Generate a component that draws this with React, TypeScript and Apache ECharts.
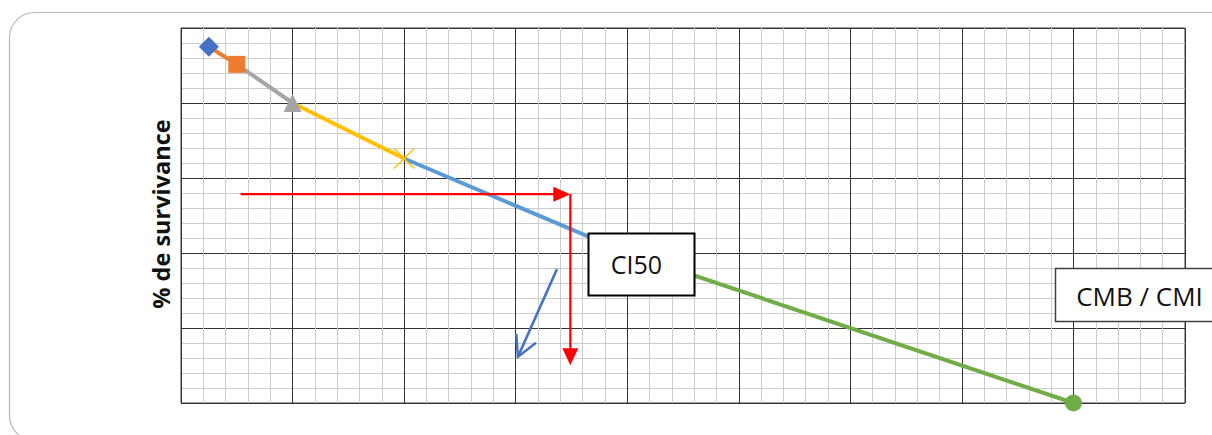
import React, { useEffect, useRef } from "react";
import * as echarts from "echarts";

// Data (concentration index on x, % survival on y)
const concentrations = [0.25, 0.5, 1, 2, 4, 8];
const survival = [95, 90.3, 80, 65.2, 40, 0];
const seriesColors = ["#4472C4", "#ED7D31", "#A5A5A5", "#FFC000", "#5B9BD5", "#70AD47"];
const seriesSymbols = ["diamond", "rect", "triangle", "path://M0,0L10,10M0,10L10,0", "none", "circle"];
const seriesSymbolSizes = [20, 17, 18, 20, 0, 17];

// Axis extents
const xMax = 9;
const xInterval = 1;
const yMax = 100;
const yInterval = 20;
const minorSplits = 5;

// Annotation arrows (data coordinates)
const redArrowStart = [0.534, 55.7];
const redArrowCorner = [3.49, 55.7];
const redArrowEnd = [3.49, 10.1];
const blueArrowStart = [3.37, 35.7];
const blueArrowEnd = [3.02, 12.3];

const yLabel = "% de survivance";
const ci50Label = "CI50";
const cmbLabel = "CMB / CMI";

export default function App() {
  const ref = useRef<HTMLDivElement>(null);

  useEffect(() => {
    if (!ref.current) return;
    const chart = echarts.init(ref.current, null, { renderer: "svg" });

    const series: any[] = [];
    series.push({
      type: "line",
      z: 10,
      data: [
        {
          value: [concentrations[0], survival[0]],
          symbol: seriesSymbols[0],
          symbolSize: seriesSymbolSizes[0],
        },
      ],
      itemStyle: { color: seriesColors[0] },
      lineStyle: { width: 4, color: seriesColors[0] },
    });
    for (let i = 1; i < concentrations.length; i++) {
      const isX = seriesSymbols[i].startsWith("path://");
      series.push({
        type: "line",
        z: 10 - i,
        showSymbol: true,
        data: [
          { value: [concentrations[i - 1], survival[i - 1]], symbol: "none" },
          {
            value: [concentrations[i], survival[i]],
            symbol: seriesSymbols[i],
            symbolSize: seriesSymbolSizes[i],
            itemStyle: isX
              ? { color: seriesColors[i], borderColor: seriesColors[i], borderWidth: 1.5 }
              : { color: seriesColors[i] },
          },
        ],
        itemStyle: { color: seriesColors[i] },
        lineStyle: { width: 4, color: seriesColors[i] },
      });
    }

    chart.setOption({
      animation: false,
      backgroundColor: "#ffffff",
      grid: {
        left: 181,
        right: 27,
        top: 28,
        bottom: 32,
        show: true,
        borderColor: "#404040",
        borderWidth: 1,
        backgroundColor: "transparent",
      },
      xAxis: {
        type: "value",
        min: 0,
        max: xMax,
        interval: xInterval,
        axisLabel: { show: false },
        axisTick: { show: false },
        axisLine: { show: false },
        splitLine: { show: true, lineStyle: { color: "#333333", width: 1 } },
        minorTick: { show: false, splitNumber: minorSplits },
        minorSplitLine: { show: true, lineStyle: { color: "#cccccc", width: 1 } },
      },
      yAxis: {
        type: "value",
        min: 0,
        max: yMax,
        interval: yInterval,
        axisLabel: { show: false },
        axisTick: { show: false },
        axisLine: { show: false },
        splitLine: { show: true, lineStyle: { color: "#333333", width: 1 } },
        minorTick: { show: false, splitNumber: minorSplits },
        minorSplitLine: { show: true, lineStyle: { color: "#cccccc", width: 1 } },
      },
      series,
    });

    const px = (p: number[]) => chart.convertToPixel({ gridIndex: 0 } as any, p) as number[];
    const rs = px(redArrowStart);
    const rc = px(redArrowCorner);
    const re = px(redArrowEnd);
    const bs = px(blueArrowStart);
    const be = px(blueArrowEnd);

    const red = "#ff0000";
    const headLen = 17;
    const headHalf = 7.5;

    // blue open arrowhead
    const dx = bs[0] - be[0];
    const dy = bs[1] - be[1];
    const len = Math.sqrt(dx * dx + dy * dy);
    const ux = dx / len;
    const uy = dy / len;
    const ang = (28 * Math.PI) / 180;
    const armLen = 23;
    const rot = (a: number) => [
      be[0] + armLen * (ux * Math.cos(a) - uy * Math.sin(a)),
      be[1] + armLen * (ux * Math.sin(a) + uy * Math.cos(a)),
    ];
    const arm1 = rot(ang);
    const arm2 = rot(-ang);

    chart.setOption({
      graphic: [
        {
          type: "rect",
          z: 200,
          silent: true,
          shape: { x: 9.5, y: 12.5, width: 1230, height: 428, r: 25 },
          style: { fill: "none", stroke: "#b8b8b8", lineWidth: 1.2 },
        },
        {
          type: "text",
          z: 200,
          x: 161,
          y: 214,
          rotation: Math.PI / 2,
          style: {
            text: yLabel,
            fontFamily: "Open Sans",
            fontWeight: "bold",
            fontSize: 23.5,
            fill: "#111111",
            align: "center",
            verticalAlign: "middle",
          },
        },
        // red horizontal arrow
        {
          type: "line",
          z: 150,
          shape: { x1: rs[0], y1: rs[1], x2: rc[0] - headLen + 2, y2: rc[1] },
          style: { stroke: red, lineWidth: 2.2 },
        },
        {
          type: "polygon",
          z: 150,
          shape: {
            points: [
              [rc[0], rc[1]],
              [rc[0] - headLen, rc[1] - headHalf],
              [rc[0] - headLen, rc[1] + headHalf],
            ],
          },
          style: { fill: red },
        },
        // red vertical arrow
        {
          type: "line",
          z: 150,
          shape: { x1: rc[0], y1: rc[1], x2: re[0], y2: re[1] - headLen + 2 },
          style: { stroke: red, lineWidth: 2.2 },
        },
        {
          type: "polygon",
          z: 150,
          shape: {
            points: [
              [re[0], re[1]],
              [re[0] - headHalf - 0.5, re[1] - headLen],
              [re[0] + headHalf + 0.5, re[1] - headLen],
            ],
          },
          style: { fill: red },
        },
        // blue pointer arrow
        {
          type: "line",
          z: 150,
          shape: { x1: bs[0], y1: bs[1], x2: be[0], y2: be[1] },
          style: { stroke: "#4472C4", lineWidth: 2.5 },
        },
        {
          type: "polyline",
          z: 150,
          shape: { points: [arm1, [be[0], be[1]], arm2] },
          style: { stroke: "#4472C4", lineWidth: 2.5, fill: "none" },
        },
        // CI50 box
        {
          type: "rect",
          z: 160,
          shape: { x: 588.5, y: 233.5, width: 106, height: 62 },
          style: { fill: "#ffffff", stroke: "#000000", lineWidth: 2 },
        },
        {
          type: "text",
          z: 161,
          x: 636.5,
          y: 264,
          style: {
            text: ci50Label,
            fontFamily: "Open Sans",
            fontSize: 25,
            fill: "#111111",
            align: "center",
            verticalAlign: "middle",
          },
        },
        // CMB / CMI box
        {
          type: "rect",
          z: 160,
          shape: { x: 1055.5, y: 268.5, width: 200, height: 53 },
          style: { fill: "#ffffff", stroke: "#404040", lineWidth: 1.5 },
        },
        {
          type: "text",
          z: 161,
          x: 1139.5,
          y: 296,
          style: {
            text: cmbLabel,
            fontFamily: "Open Sans",
            fontSize: 26,
            fill: "#111111",
            align: "center",
            verticalAlign: "middle",
          },
        },
      ],
    });

    return () => {
      chart.dispose();
    };
  }, []);

  return (
    <div
      ref={ref}
      style={{ position: "absolute", left: 0, top: 0, width: 1212, height: 435 }}
    />
  );
}
